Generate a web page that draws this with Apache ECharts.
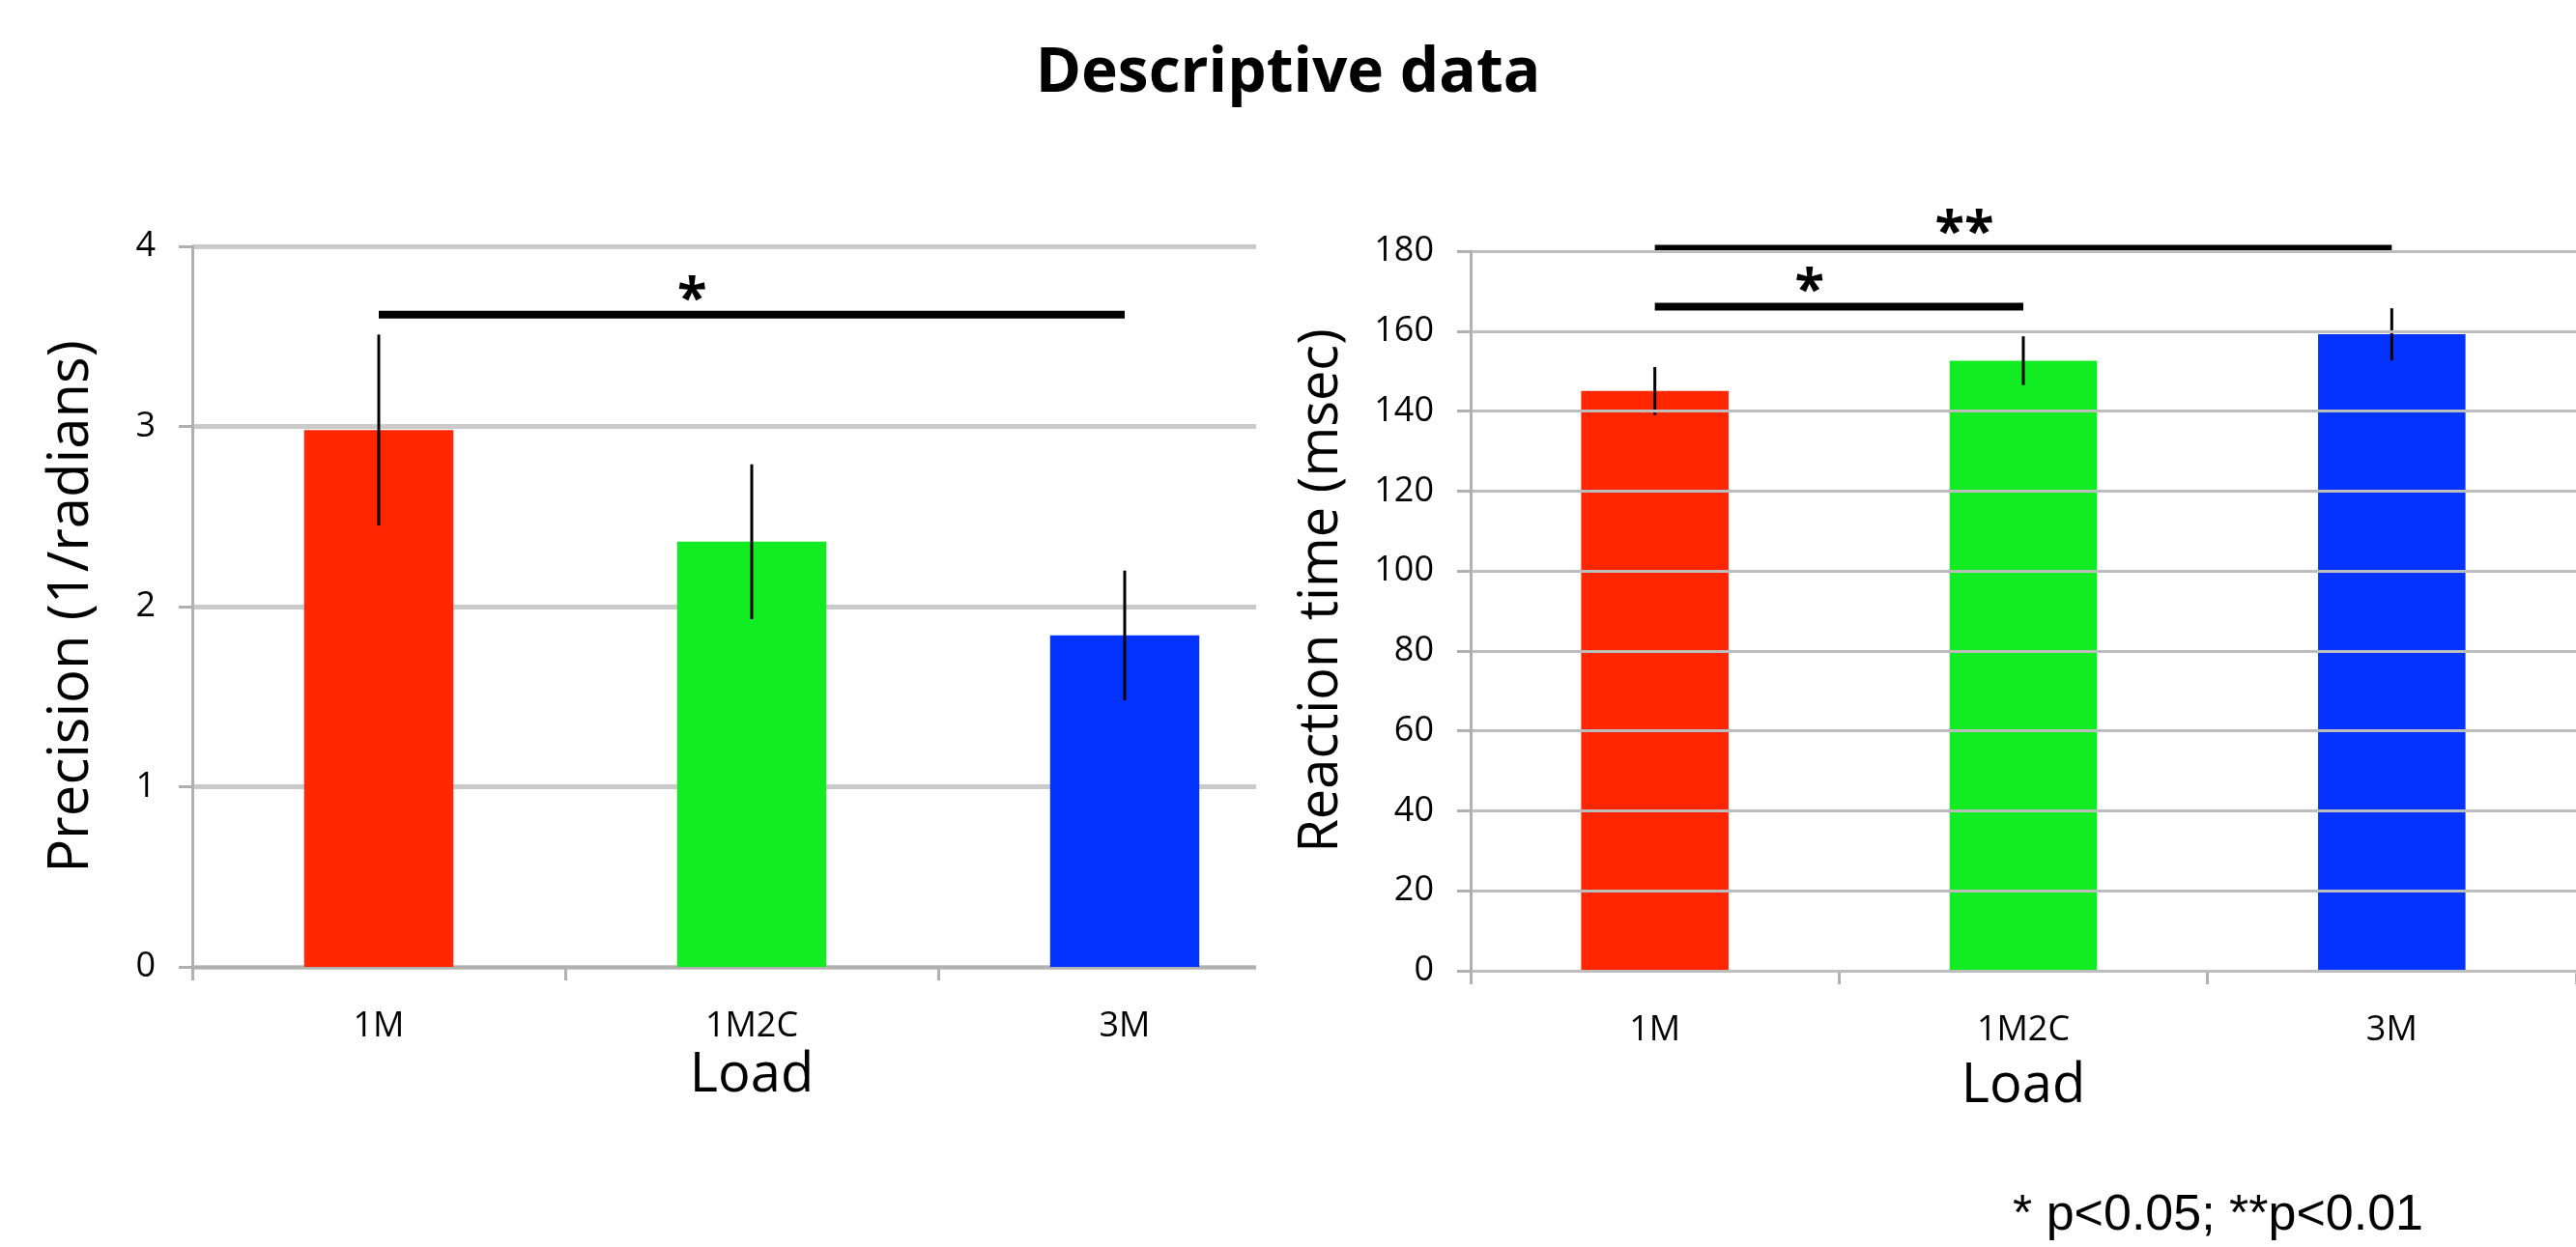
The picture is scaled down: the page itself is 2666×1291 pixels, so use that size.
<!DOCTYPE html>
<html>
<head>
<meta charset="utf-8">
<title>Descriptive data</title>
<script src="https://cdn.jsdelivr.net/npm/echarts@6/dist/echarts.min.js"></script>
<style>
  html, body { margin: 0; padding: 0; background: #fff; }
  #chart { width: 2666px; height: 1291px; }
</style>
</head>
<body>
<div id="chart"></div>
<script>
// data
const loads = ['1M', '1M2C', '3M'];
const barColors = ['#ff2600', '#12ec22', '#0433ff'];

const precisionMean = [2.98, 2.36, 1.84];
const precisionErr = [0.53, 0.43, 0.36];
const precisionAxis = { min: 0, max: 4, interval: 1 };
// [from category, to category, height, label]
const precisionSig = [[0, 2, 3.62, '*']];

const rtMean = [145, 152.6, 159.2];
const rtErr = [6, 6.1, 6.5];
const rtAxis = { min: 0, max: 180, interval: 20 };
const rtSig = [[0, 1, 166.1, '*'], [0, 2, 180.6, '**']];

const FONT = '"Open Sans", "Noto Sans", sans-serif';
const AXIS_GREY = '#b0b0b0';

const chart = echarts.init(document.getElementById('chart'));

function errorData(mean, err) {
  return mean.map((m, i) => [i, m + err[i], m - err[i]]);
}

function renderError(params, api) {
  const top = api.coord([api.value(0), api.value(1)]);
  const bot = api.coord([api.value(0), api.value(2)]);
  return {
    type: 'line',
    shape: { x1: top[0], y1: top[1], x2: bot[0], y2: bot[1] },
    style: { stroke: '#000', lineWidth: 3 },
  };
}

function sigRenderer(sig) {
  return function (params, api) {
    const row = sig[params.dataIndex];
    const a = api.coord([row[0], row[2]]);
    const b = api.coord([row[1], row[2]]);
    return {
      type: 'group',
      children: [
        {
          type: 'line',
          shape: { x1: a[0], y1: a[1], x2: b[0], y2: b[1] },
          style: { stroke: '#000', lineWidth: 8 },
        },
        {
          type: 'text',
          style: {
            text: row[3],
            x: a[0] + (b[0] - a[0]) * 0.42,
            y: a[1] - 15,
            align: 'center',
            verticalAlign: 'middle',
            font: 'bold 56px ' + FONT,
            fill: '#000',
          },
        },
      ],
    };
  };
}

function xAxisOf(gridIndex, nameGap) {
  return {
    type: 'category',
    gridIndex,
    data: loads,
    axisLine: { lineStyle: { color: AXIS_GREY, width: 3 } },
    axisTick: { show: true, length: 14, lineStyle: { color: AXIS_GREY, width: 3 } },
    axisLabel: { fontSize: 36, color: '#000', margin: 44, fontFamily: FONT },
    name: 'Load',
    nameLocation: 'middle',
    nameGap,
    nameTextStyle: { fontSize: 56, color: '#000', fontFamily: FONT },
  };
}

function yAxisOf(gridIndex, range, name, nameGap, nameSize, padding, gridStyle) {
  return {
    type: 'value',
    gridIndex,
    z: gridIndex === 1 ? 10 : 0,
    min: range.min,
    max: range.max,
    interval: range.interval,
    axisLine: { show: true, lineStyle: { color: AXIS_GREY, width: 3 } },
    axisTick: { show: true, length: 14, lineStyle: { color: AXIS_GREY, width: 3 } },
    axisLabel: { fontSize: 36, color: '#000', margin: 38, fontFamily: FONT },
    splitLine: { lineStyle: gridStyle },
    name,
    nameLocation: 'middle',
    nameRotate: 90,
    nameGap,
    nameTextStyle: { fontSize: nameSize, color: '#000', fontFamily: FONT, padding },
  };
}

function barSeries(idx, values) {
  return {
    type: 'bar',
    xAxisIndex: idx,
    yAxisIndex: idx,
    data: values,
    barWidth: '40%',
    itemStyle: { color: (p) => barColors[p.dataIndex] },
    silent: true,
  };
}

function customSeries(idx, data, renderItem) {
  return {
    type: 'custom',
    xAxisIndex: idx,
    yAxisIndex: idx,
    data,
    renderItem,
    z: 5,
    silent: true,
  };
}

const option = {
  animation: false,
  title: [
    {
      text: 'Descriptive data',
      left: 'center',
      top: 40,
      textStyle: { fontSize: 64, fontWeight: 'bold', color: '#000', fontFamily: FONT },
    },
    {
      text: '* p<0.05; **p<0.01',
      left: 2078,
      top: 1228,
      textStyle: { fontSize: 52, fontWeight: 'normal', color: '#000', fontFamily: '"Liberation Sans", Arial, sans-serif' },
    },
  ],
  grid: [
    { left: 199, top: 255, width: 1158, height: 746 },
    { left: 1522, top: 260, width: 1152, height: 745 },
  ],
  xAxis: [xAxisOf(0, 84), xAxisOf(1, 92)],
  yAxis: [
    yAxisOf(0, precisionAxis, 'Precision (1/radians)', 96, 58, [0, 0, 0, 0], { color: '#cacaca', width: 5 }),
    yAxisOf(1, rtAxis, 'Reaction time (msec)', 126, 56, [0, 0, 0, 42], { color: '#bdbdbd', width: 3 }),
  ],
  // the left panel is cut off on its right side in the original figure
  graphic: [
    {
      type: 'rect',
      left: 1300,
      top: 230,
      shape: { width: 100, height: 800 },
      style: { fill: '#fff' },
      z: 1,
      silent: true,
    },
  ],
  series: [
    barSeries(0, precisionMean),
    customSeries(0, errorData(precisionMean, precisionErr), renderError),
    customSeries(0, precisionSig.map((r) => [r[0], r[1], r[2]]), sigRenderer(precisionSig)),
    barSeries(1, rtMean),
    customSeries(1, errorData(rtMean, rtErr), renderError),
    customSeries(1, rtSig.map((r) => [r[0], r[1], r[2]]), sigRenderer(rtSig)),
  ],
};

chart.setOption(option);
</script>
</body>
</html>
